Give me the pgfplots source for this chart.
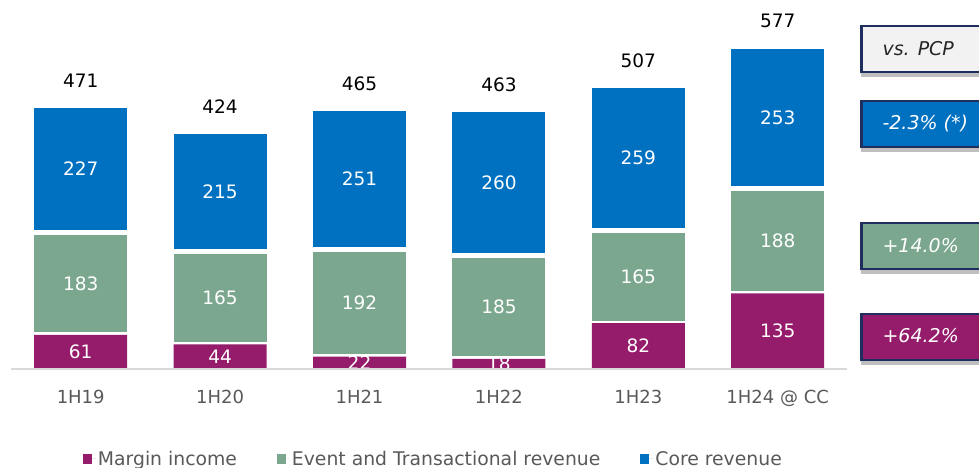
\documentclass[border=0pt]{standalone}
\usepackage{fontspec}
\setmainfont{DejaVu Sans}
\usepackage{pgfplots}
\pgfplotsset{compat=1.18}
\usetikzlibrary{shadows}
\definecolor{cMargin}{HTML}{951B6B}
\definecolor{cEvent}{HTML}{7BA78E}
\definecolor{cCore}{HTML}{0070C0}
\definecolor{cNavy}{HTML}{1F2E5E}
\definecolor{cTick}{HTML}{595959}
\definecolor{cAxis}{HTML}{D9D9D9}
\definecolor{cBoxGrey}{HTML}{F2F2F2}
\newcommand{\valfont}{\fontsize{18.5}{21}\selectfont}
\pgfplotsset{
  common/.style={
    at={(11pt,99pt)}, anchor=south west,
    x=139.4pt, y=0.56pt,
    xmin=-0.5, xmax=5.5, ymin=0, ymax=640,
    /pgf/number format/assume math mode=true,
  },
  inlabel/.style={
    nodes near coords,
    nodes near coords style={anchor=center, text=white, font=\valfont},
  },
}
\begin{document}
\begin{tikzpicture}[x=1pt,y=1pt]
\useasboundingbox (0,0) rectangle (979,468);
\clip (0,0) rectangle (979,468);
\begin{axis}[
  common,
  name=ax,
  ybar stacked,
  axis x line*=bottom, axis y line=none,
  x axis line style={draw=none},
  major tick length=0pt,
  xtick={0,1,2,3,4,5},
  xticklabels={1H19,1H20,1H21,1H22,1H23,1H24 @ CC},
  xticklabel style={anchor=base, yshift=-35pt, font=\fontsize{18}{20}\selectfont, text=cTick},
  legend style={at={(0.505,0)}, anchor=center, yshift=-90pt, draw=none, fill=none,
    font=\fontsize{18.8}{20}\selectfont, text=cTick,
    /tikz/every even column/.append style={column sep=38pt}},
  legend columns=3,
  legend cell align=left,
]
\addplot[fill=cMargin, draw=none, bar width=93pt, inlabel,
  legend image code/.code={\fill[cMargin, draw=none] (0pt,-4.5pt) rectangle (9pt,4.5pt); \path[draw=none] (0pt,0pt) -- (13pt,0pt);}
] coordinates {(0,61) (1,44) (2,22) (3,18) (4,82) (5,135)};
\addlegendentry{Margin income}
\addplot[fill=cEvent, draw=white, line width=5pt, bar width=98pt, inlabel,
  legend image code/.code={\fill[cEvent, draw=none] (0pt,-4.5pt) rectangle (9pt,4.5pt); \path[draw=none] (0pt,0pt) -- (13pt,0pt);}
] coordinates {(0,183) (1,165) (2,192) (3,185) (4,165) (5,188)};
\addlegendentry{Event and Transactional revenue}
\addplot[fill=cCore, draw=white, line width=5pt, bar width=98pt, inlabel,
  legend image code/.code={\fill[cCore, draw=none] (0pt,-4.5pt) rectangle (9pt,4.5pt); \path[draw=none] (0pt,0pt) -- (13pt,0pt);}
] coordinates {(0,227) (1,215) (2,251) (3,260) (4,259) (5,253)};
\addlegendentry{Core revenue}
\end{axis}
% totals on an overlaid axis of the same geometry
\begin{axis}[
  common,
  hide axis,
]
\addplot[draw=none, mark=none,
  point meta=explicit symbolic,
  nodes near coords,
  nodes near coords style={anchor=base, yshift=18pt, text=black, font=\valfont}
] coordinates {(0,471) [471] (1,424) [424] (2,465) [465] (3,463) [463] (4,507) [507] (5,577) [577]};
\end{axis}
% hide label parts below the baseline, then the axis line
\fill[white] (5,99) rectangle (860,86);
\draw[cAxis, line width=1.5pt] (11,99) -- (847.4,99);
% comparison boxes
\tikzset{pbox/.style={draw=cNavy, line width=2.5pt, minimum height=46pt, minimum width=150pt,
  anchor=north west, inner sep=0pt,
  drop shadow={shadow xshift=0pt, shadow yshift=-5pt, opacity=0.25, fill=black}},
  ptext/.style={anchor=west, font=\fontsize{19}{21}\selectfont\itshape}}
\node[pbox, fill=cBoxGrey] at (860,443) {};
\node[ptext, text=black!85] at (879,419.5) {vs. PCP};
\node[pbox, fill=cCore] at (860,368) {};
\node[ptext, text=white] at (879,344) {-2.3\% (*)};
\node[pbox, fill=cEvent] at (860,246) {};
\node[ptext, text=white] at (879,222.5) {+14.0\%};
\node[pbox, fill=cMargin] at (860,155) {};
\node[ptext, text=white] at (879,132.5) {+64.2\%};
\end{tikzpicture}
\end{document}
